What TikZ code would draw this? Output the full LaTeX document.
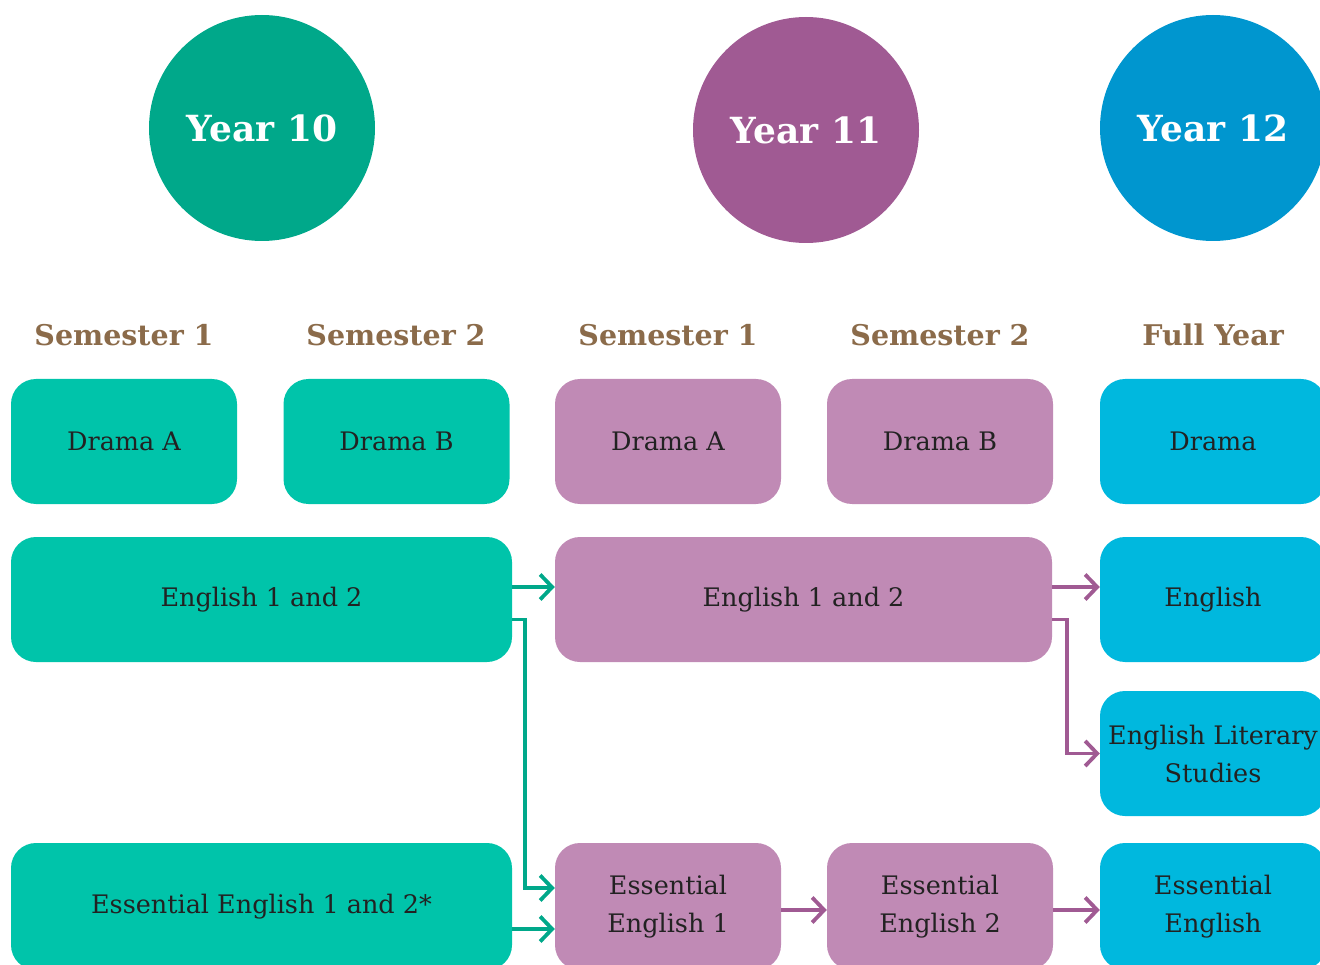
\documentclass[tikz,border=0pt]{standalone}
\usepackage{fontspec}
\setmainfont{DejaVu Serif}
\usetikzlibrary{arrows.meta}
\definecolor{tealdark}{HTML}{00A88A}
\definecolor{teallight}{HTML}{00C4AA}
\definecolor{plumdark}{HTML}{A05A93}
\definecolor{plumlight}{HTML}{C08AB5}
\definecolor{bluedark}{HTML}{0096CF}
\definecolor{bluelight}{HTML}{00B8DE}
\definecolor{headbrown}{HTML}{8B6B4A}
\definecolor{textdark}{HTML}{222222}
\tikzset{
  yearcircle/.style={circle, minimum size=226pt, inner sep=0pt, text=white,
    font=\fontsize{36}{42}\selectfont\bfseries},
  semhead/.style={text=headbrown, font=\fontsize{28.5}{32}\selectfont\bfseries},
  course/.style={rectangle, rounded corners=25pt, minimum width=226pt,
    minimum height=125pt, inner sep=4pt, align=center, text=textdark,
    font=\fontsize{25.5}{38}\selectfont},
  wide/.style={course, minimum width=#1},
  flow/.style={line width=3.8pt, -{Straight Barb[length=12pt,width=25pt]}},
}
\begin{document}
\begin{tikzpicture}[x=1pt,y=-1pt]
  \useasboundingbox (0,0) rectangle (1320,965);
  \clip (0,0) rectangle (1320,965);
  % year circles
  \node[yearcircle, fill=tealdark] (y10) at (262,128) {Year 10};
  \node[yearcircle, fill=plumdark] (y11) at (806,130) {Year 11};
  \node[yearcircle, fill=bluedark] (y12) at (1213,128) {Year 12};
  % semester headings
  \node[semhead] (s101) at (124,335) {Semester 1};
  \node[semhead] (s102) at (396,335) {Semester 2};
  \node[semhead] (s111) at (668,335) {Semester 1};
  \node[semhead] (s112) at (940,335) {Semester 2};
  \node[semhead] (s12) at (1213,335) {Full Year};
  % drama row
  \node[course, fill=teallight] (d10a) at (124,441.5) {Drama A};
  \node[course, fill=teallight] (d10b) at (396.5,441.5) {Drama B};
  \node[course, fill=plumlight] (d11a) at (668,441.5) {Drama A};
  \node[course, fill=plumlight] (d11b) at (940,441.5) {Drama B};
  \node[course, fill=bluelight] (d12) at (1213,441.5) {Drama};
  % english row
  \node[wide=501pt, fill=teallight] (e10) at (261.5,599.5) {English 1 and 2};
  \node[wide=497pt, fill=plumlight] (e11) at (803.5,599.5) {English 1 and 2};
  \node[course, fill=bluelight] (e12) at (1213,599.5) {English};
  \node[course, fill=bluelight] (els) at (1213,753.5) {English Literary\\Studies};
  % essential row
  \node[wide=501pt, minimum height=127pt, fill=teallight] (ee10) at (261.5,906.5) {Essential English 1 and 2*};
  \node[course, minimum height=127pt, fill=plumlight] (ee11a) at (668,906.5) {Essential\\English 1};
  \node[course, minimum height=127pt, fill=plumlight] (ee11b) at (940,906.5) {Essential\\English 2};
  \node[course, minimum height=127pt, fill=bluelight] (ee12) at (1213,906.5) {Essential\\English};
  % pathways
  \draw[flow, tealdark] ([yshift=12.5pt]e10.east) -- ([yshift=12.5pt]e10.east -| e11.west);
  \draw[flow, tealdark] ([yshift=-20pt]e10.east) -- ++(13,0) |- ([yshift=18.5pt]ee11a.west);
  \draw[flow, tealdark] ([yshift=-22.5pt]ee10.east) -- ([yshift=-22.5pt]ee10.east -| ee11a.west);
  \draw[flow, plumdark] ([yshift=12.5pt]e11.east) -- ([yshift=12.5pt]e11.east -| e12.west);
  \draw[flow, plumdark] ([yshift=-20pt]e11.east) -- ++(15,0) |- (els.west);
  \draw[flow, plumdark] ([yshift=-3.5pt]ee11a.east) -- ([yshift=-3.5pt]ee11a.east -| ee11b.west);
  \draw[flow, plumdark] ([yshift=-3.5pt]ee11b.east) -- ([yshift=-3.5pt]ee11b.east -| ee12.west);
\end{tikzpicture}
\end{document}
